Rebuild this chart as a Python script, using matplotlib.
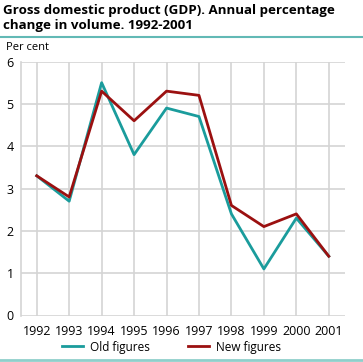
import matplotlib.pyplot as plt
import matplotlib.lines as mlines

years = [1992, 1993, 1994, 1995, 1996, 1997, 1998, 1999, 2000, 2001]
old_figures = [3.3, 2.7, 5.5, 3.8, 4.9, 4.7, 2.4, 1.1, 2.3, 1.4]
new_figures = [3.3, 2.8, 5.3, 4.6, 5.3, 5.2, 2.6, 2.1, 2.4, 1.4]

teal = "#1a9c9c"
red = "#9b1010"
grid = "#d4d4d4"

plt.rcParams["font.family"] = ["Open Sans", "DejaVu Sans"]

fig = plt.figure(figsize=(3.63, 3.62), dpi=100)
W, H = 363, 362
# plot area in pixel coords
left, right, top, bottom = 20.5, 345, 61.5, 315.5
ax = fig.add_axes([left / W, 1 - bottom / H, (right - left) / W, (bottom - top) / H])

ax.plot(years, old_figures, color=teal, lw=2, label="Old figures", zorder=3)
ax.plot(years, new_figures, color=red, lw=2, label="New figures", zorder=3)

ax.set_xlim(1991.5, 2001.5)
ax.set_ylim(0, 6)
ax.set_xticks(years)
ax.set_xticklabels([str(y) for y in years])
ax.set_yticks(range(0, 7))
ax.grid(True, color=grid, lw=1.2, zorder=0)
for s in ["top", "right", "bottom"]:
    ax.spines[s].set_visible(False)
ax.spines["left"].set_color(grid)
ax.spines["left"].set_linewidth(1.2)
ax.tick_params(length=0, labelsize=9, colors="#000000")
ax.tick_params(axis="x", pad=7)
ax.tick_params(axis="y", pad=5)

fig.text(3 / W, 1 - 4 / H, "Gross domestic product (GDP). Annual percentage\nchange in volume. 1992-2001",
         fontsize=9.6, fontweight="bold", va="top", ha="left", linespacing=1.2)
fig.add_artist(mlines.Line2D([0, 1], [1 - 37 / H, 1 - 37 / H], color="#62b9b5", lw=1.5))
fig.text(6 / W, 1 - 48 / H, "Per cent", fontsize=8, va="center", ha="left")

h1 = mlines.Line2D([], [], color=teal, lw=2)
h2 = mlines.Line2D([], [], color=red, lw=2)
fig.legend([h1, h2], ["Old figures", "New figures"], loc="center", bbox_to_anchor=(171.5 / W, 1 - 347 / H),
           ncol=2, frameon=False, fontsize=8.5, handlelength=1.8, columnspacing=3.2, handletextpad=0.6)
fig.add_artist(mlines.Line2D([0, 1], [1 - 360 / H, 1 - 360 / H], color="#8fcfcb", lw=2))

plt.savefig("out.png", dpi=100)
